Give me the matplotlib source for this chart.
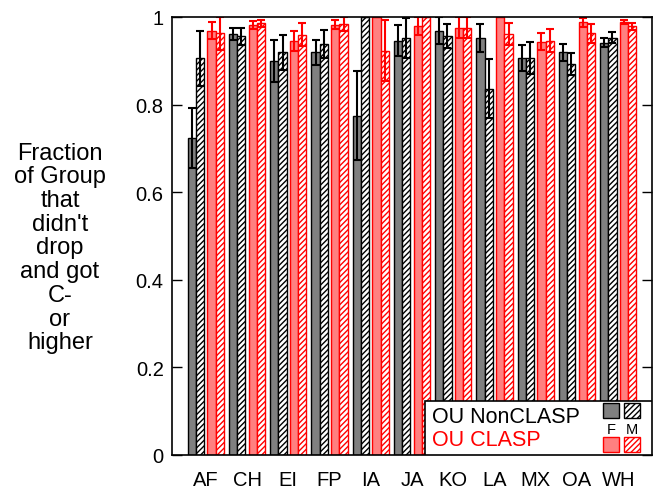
import numpy as np
import matplotlib.pyplot as plt
from matplotlib.patches import Rectangle

plt.rcParams['font.family'] = ['Liberation Sans', 'DejaVu Sans']
plt.rcParams['hatch.linewidth'] = 1.0

groups = ['AF', 'CH', 'EI', 'FP', 'IA', 'JA', 'KO', 'LA', 'MX', 'OA', 'WH']

# OU NonCLASP
non_f = [0.724, 0.961, 0.900, 0.919, 0.775, 0.946, 0.969, 0.952, 0.906, 0.919, 0.941]
non_f_err = [0.068, 0.014, 0.048, 0.029, 0.102, 0.035, 0.030, 0.033, 0.030, 0.020, 0.010]
non_m = [0.906, 0.956, 0.919, 0.938, 1.0, 0.952, 0.957, 0.836, 0.906, 0.893, 0.953]
non_m_err = [0.063, 0.020, 0.039, 0.032, 0.0, 0.045, 0.028, 0.067, 0.036, 0.025, 0.012]

# OU CLASP
clasp_f = [0.969, 0.982, 0.946, 0.982, 1.0, 0.980, 0.976, 1.0, 0.944, 0.988, 0.988]
clasp_f_err = [0.020, 0.009, 0.023, 0.010, 0.0, 0.020, 0.025, 0.0, 0.019, 0.010, 0.004]
clasp_m = [0.963, 0.986, 0.960, 0.984, 0.923, 1.0, 0.976, 0.961, 0.946, 0.963, 0.979]
clasp_m_err = [0.038, 0.008, 0.027, 0.015, 0.070, 0.0, 0.025, 0.026, 0.027, 0.022, 0.008]

x = np.arange(len(groups))
w = 0.2

fig = plt.figure(figsize=(6.57, 4.89), dpi=100)
ax = fig.add_axes([0.2618, 0.0675, 0.7306, 0.8957])

ekw_k = dict(ecolor='black', capsize=3, elinewidth=1.5, capthick=1.5)
ekw_r = dict(ecolor='red', capsize=3, elinewidth=1.5, capthick=1.5)

ax.bar(x - 0.34, non_f, w, yerr=non_f_err, color='#808080', edgecolor='black',
       linewidth=1, error_kw=ekw_k)
ax.bar(x - 0.14, non_m, w, yerr=non_m_err, color='white', edgecolor='black',
       hatch='//////', linewidth=1, error_kw=ekw_k)
ax.bar(x + 0.14, clasp_f, w, yerr=clasp_f_err, color='#ff8080', edgecolor='red',
       linewidth=1, error_kw=ekw_r)
ax.bar(x + 0.34, clasp_m, w, yerr=clasp_m_err, color='white', edgecolor='red',
       hatch='//////', linewidth=1, error_kw=ekw_r)

ax.set_xlim(-0.82, 10.82)
ax.set_ylim(0, 1)
ax.set_xticks(x)
ax.set_xticklabels(groups, fontsize=14.5)
ax.tick_params(axis='x', length=0, pad=11)
ax.set_yticks([0, 0.2, 0.4, 0.6, 0.8, 1])
ax.set_yticklabels(['0', '0.2', '0.4', '0.6', '0.8', '1'], fontsize=14.5)
ax.tick_params(axis='y', direction='in', length=7, right=True, width=1, pad=6)
for s in ax.spines.values():
    s.set_linewidth(1.2)

fig.text(0.0913, 0.492, "Fraction\nof Group\nthat\ndidn't\ndrop\nand got\nC-\nor\nhigher",
         ha='center', va='center', multialignment='center', fontsize=17, linespacing=1.1)

# легенда вручную
ax.add_patch(Rectangle((0.527, 0.0), 0.473, 0.124, transform=ax.transAxes,
                       facecolor='white', edgecolor='black', linewidth=1.2, zorder=5))
ax.text(0.5417, 0.087, 'OU NonCLASP', transform=ax.transAxes, fontsize=15.5,
        va='center', ha='left', color='black', zorder=6)
ax.text(0.5417, 0.036, 'OU CLASP', transform=ax.transAxes, fontsize=15.5,
        va='center', ha='left', color='red', zorder=6)
ax.add_patch(Rectangle((0.898, 0.0845), 0.033, 0.0345, transform=ax.transAxes,
                       facecolor='#808080', edgecolor='black', linewidth=1, zorder=6))
ax.add_patch(Rectangle((0.942, 0.0845), 0.033, 0.0345, transform=ax.transAxes,
                       facecolor='white', edgecolor='black', hatch='//////', linewidth=1, zorder=6))
ax.add_patch(Rectangle((0.898, 0.007), 0.033, 0.0345, transform=ax.transAxes,
                       facecolor='#ff8080', edgecolor='red', linewidth=1, zorder=6))
ax.add_patch(Rectangle((0.942, 0.007), 0.033, 0.0345, transform=ax.transAxes,
                       facecolor='white', edgecolor='red', hatch='//////', linewidth=1, zorder=6))
ax.text(0.915, 0.059, 'F', transform=ax.transAxes, fontsize=10.5, ha='center', va='center', zorder=6)
ax.text(0.958, 0.059, 'M', transform=ax.transAxes, fontsize=10.5, ha='center', va='center', zorder=6)

plt.savefig('out.png', dpi=100)
